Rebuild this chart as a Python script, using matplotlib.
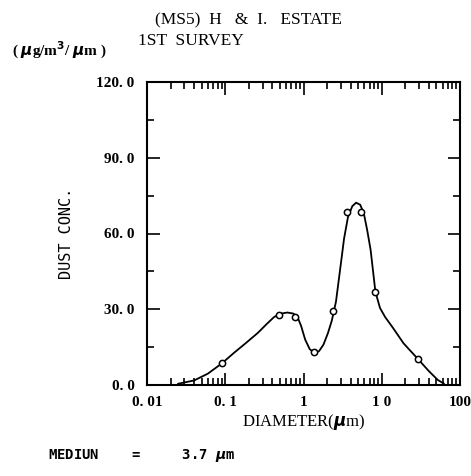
import numpy as np
import matplotlib
matplotlib.use("Agg")
import matplotlib.pyplot as plt
from matplotlib.ticker import FixedLocator, NullFormatter, LogLocator

# measured points (diameter in um, dust conc.)
meas_d = [0.09, 0.49, 0.79, 1.38, 2.4, 3.6, 5.4, 8.3, 29]
meas_c = [8.7, 27.8, 27.1, 13.2, 29.5, 68.4, 68.4, 36.9, 10.3]

# fitted distribution curve
curve_d = [0.025, 0.04, 0.06, 0.09, 0.13, 0.18, 0.26, 0.34, 0.42, 0.5, 0.62, 0.74,
           0.84, 0.93, 1.05, 1.2, 1.38, 1.58, 1.8, 2.05, 2.3, 2.6, 2.97, 3.3,
           3.7, 4.2, 4.7, 5.3, 5.9, 6.5, 7.2, 8.3, 9.5, 11, 14, 19, 29, 40, 52, 62]
curve_c = [0.5, 1.8, 4.5, 8.5, 12.8, 16.4, 20.6, 24.2, 26.9, 28.2, 28.7, 28.3,
           26.8, 23.5, 18.0, 14.2, 12.7, 13.4, 16.0, 20.5, 25.5, 33.0, 46.9, 58.0,
           66.5, 70.8, 72.2, 71.4, 68.0, 61.5, 53.6, 36.9, 30.5, 27.0, 22.5, 16.5, 10.3, 5.5, 2.0, 0.6]

x_ticks = [0.01, 0.1, 1, 10, 100]
x_labels = ["0. 01", "0. 1", "1", "1 0", "100"]
y_ticks = [0, 30, 60, 90, 120]
y_labels = ["0. 0", "30. 0", "60. 0", "90. 0", "120. 0"]

plt.rcParams["font.family"] = ["Liberation Serif", "DejaVu Serif"]
plt.rcParams["font.weight"] = "bold"

fig = plt.figure(figsize=(4.71, 4.76), dpi=100)
ax = fig.add_axes([147 / 471, 1 - 385 / 476, 313 / 471, 303 / 476])

ax.plot(curve_d, curve_c, color="black", lw=1.3)
ax.plot(meas_d, meas_c, "o", mfc="white", mec="black", ms=4.5, mew=1.1)

ax.set_xscale("log")
ax.set_xlim(0.01, 100)
ax.set_ylim(0, 120)

ax.xaxis.set_major_locator(FixedLocator(x_ticks))
ax.set_xticklabels(x_labels, fontsize=11)
ax.xaxis.set_minor_locator(LogLocator(base=10, subs=np.arange(2, 10)))
ax.xaxis.set_minor_formatter(NullFormatter())
ax.yaxis.set_major_locator(FixedLocator(y_ticks))
ax.set_yticklabels(y_labels, fontsize=11)
ax.yaxis.set_minor_locator(FixedLocator(np.arange(15, 120, 30)))

ax.tick_params(which="both", direction="in", top=True, right=True, width=1.2)
ax.tick_params(which="major", length=9)
ax.tick_params(axis="x", which="major", pad=8)
ax.tick_params(axis="y", which="major", pad=9)
ax.tick_params(which="minor", length=5)
for s in ax.spines.values():
    s.set_linewidth(1.5)

ax.set_xlabel("DIAMETER($\\mu$m)", fontsize=12, labelpad=2)
ax.set_ylabel("DUST CONC.", fontsize=11, labelpad=16, fontfamily="DejaVu Sans Mono",
              fontweight="normal")

fig.text(155 / 471, 1 - 20 / 476, "(MS5)  H   &  I.   ESTATE", fontsize=12.5,
         va="center", ha="left", fontweight="normal")
fig.text(138 / 471, 1 - 41 / 476, "1ST  SURVEY", fontsize=12.5, va="center", ha="left",
         fontweight="normal")
fig.text(12 / 471, 1 - 50 / 476, "( $\\mu$g/m$^3$/ $\\mu$m )", fontsize=11,
         va="center", ha="left")
fig.text(48 / 471, 1 - 455 / 476, "MEDIUN    =     3.7 $\\mu$m", fontsize=10,
         va="center", ha="left", fontfamily="DejaVu Sans Mono")

fig.savefig("out.png", dpi=100, facecolor="white")
